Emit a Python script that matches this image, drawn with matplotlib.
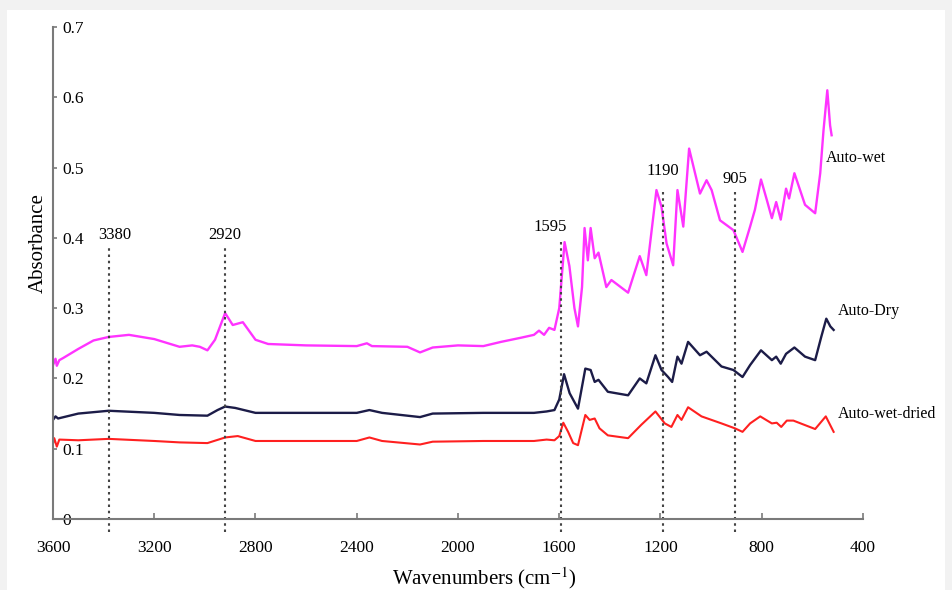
import matplotlib.pyplot as plt
from matplotlib.patches import Rectangle

plt.rcParams['font.family'] = ['Liberation Serif', 'DejaVu Serif']
plt.rcParams['mathtext.fontset'] = 'stix'

# Spectra: wavenumber (cm-1) and absorbance
wet_wn = [3600, 3590, 3585, 3575, 3560, 3500, 3440, 3380, 3300, 3200, 3100, 3050,
          3020, 2990, 2960, 2920, 2890, 2850, 2800, 2750, 2600, 2400, 2360, 2340,
          2200, 2150, 2100, 2000, 1900, 1830, 1750, 1700, 1680, 1660, 1640, 1619,
          1600, 1579, 1560, 1540, 1526, 1510, 1500, 1487, 1476, 1460, 1445, 1414,
          1394, 1328, 1282, 1256, 1216, 1196, 1176, 1150, 1133, 1110, 1087, 1044,
          1018, 998, 965, 912, 876, 846, 827, 803, 780, 760, 743, 725, 704, 692,
          671, 629, 589, 569, 556, 541, 530, 524]
wet_abs = [0.219, 0.228, 0.218, 0.226, 0.229, 0.242, 0.254, 0.259, 0.262, 0.256,
           0.245, 0.247, 0.245, 0.240, 0.255, 0.293, 0.276, 0.280, 0.255, 0.249,
           0.247, 0.246, 0.250, 0.246, 0.245, 0.237, 0.244, 0.247, 0.246, 0.252,
           0.258, 0.262, 0.268, 0.262, 0.272, 0.269, 0.300, 0.394, 0.360, 0.300,
           0.274, 0.330, 0.414, 0.368, 0.414, 0.371, 0.379, 0.330, 0.340, 0.322,
           0.374, 0.347, 0.468, 0.444, 0.392, 0.361, 0.468, 0.416, 0.527, 0.463,
           0.482, 0.468, 0.425, 0.411, 0.380, 0.416, 0.440, 0.483, 0.454, 0.428,
           0.451, 0.426, 0.470, 0.456, 0.492, 0.447, 0.435, 0.492, 0.553, 0.610,
           0.560, 0.546]

dry_wn = [3600, 3590, 3580, 3500, 3380, 3200, 3100, 2990, 2950, 2920, 2880, 2800,
          2600, 2400, 2350, 2300, 2150, 2100, 1900, 1700, 1650, 1619, 1600, 1581,
          1559, 1526, 1497, 1476, 1460, 1445, 1408, 1328, 1282, 1256, 1220, 1196,
          1170, 1154, 1133, 1117, 1091, 1044, 1018, 959, 912, 876, 846, 803, 760,
          743, 725, 704, 671, 629, 589, 565, 545, 529, 516]
dry_abs = [0.141, 0.146, 0.143, 0.150, 0.154, 0.151, 0.148, 0.147, 0.155, 0.160,
           0.158, 0.151, 0.151, 0.151, 0.155, 0.151, 0.145, 0.150, 0.151, 0.151,
           0.153, 0.155, 0.170, 0.206, 0.179, 0.157, 0.214, 0.212, 0.195, 0.198,
           0.181, 0.176, 0.200, 0.193, 0.233, 0.212, 0.202, 0.195, 0.231, 0.221,
           0.252, 0.233, 0.238, 0.217, 0.212, 0.202, 0.219, 0.240, 0.226, 0.231,
           0.221, 0.235, 0.244, 0.231, 0.226, 0.259, 0.285, 0.274, 0.269]

dried_wn = [3600, 3595, 3585, 3575, 3500, 3380, 3200, 3100, 2990, 2920, 2870, 2800,
            2600, 2400, 2350, 2300, 2150, 2100, 1900, 1700, 1650, 1619, 1600, 1584,
            1565, 1545, 1526, 1497, 1480, 1460, 1441, 1408, 1328, 1276, 1220, 1183,
            1157, 1133, 1117, 1091, 1038, 959, 906, 876, 846, 806, 760, 741, 723,
            701, 675, 589, 547, 516]
dried_abs = [0.107, 0.115, 0.103, 0.113, 0.112, 0.114, 0.111, 0.109, 0.108, 0.116,
             0.118, 0.111, 0.111, 0.111, 0.116, 0.111, 0.106, 0.110, 0.111, 0.111,
             0.113, 0.112, 0.118, 0.137, 0.124, 0.108, 0.105, 0.148, 0.141, 0.143,
             0.129, 0.119, 0.115, 0.134, 0.153, 0.136, 0.131, 0.148, 0.141, 0.159,
             0.146, 0.136, 0.129, 0.124, 0.136, 0.146, 0.136, 0.137, 0.131, 0.140,
             0.140, 0.128, 0.146, 0.124]

# Marked bands: position, top of the dotted line, label height
band_pos = [3380, 2920, 1595, 1190, 905]
band_top = [0.385, 0.385, 0.395, 0.465, 0.465]
band_text = ['3380', '2920', '1595', '1190', '905']
band_label_y = [0.393, 0.393, 0.404, 0.484, 0.473]
band_label_dx = [-25, 0, 40, 0, 0]

x_ticks = [3600, 3200, 2800, 2400, 2000, 1600, 1200, 800, 400]
y_ticks = [0, 0.1, 0.2, 0.3, 0.4, 0.5, 0.6, 0.7]
y_tick_labels = ['0', '0.1', '0.2', '0.3', '0.4', '0.5', '0.6', '0.7']


fig = plt.figure(figsize=(9.53, 5.9), dpi=100, facecolor='#f2f2f2')
fig.patches.append(Rectangle((7 / 953, 0), 938 / 953, 580 / 590,
                             transform=fig.transFigure, facecolor='white',
                             edgecolor='none', zorder=-10))
ax = fig.add_axes([53 / 953, 71 / 590, 810 / 953, 492 / 590])
ax.set_zorder(5)
ax.set_facecolor('none')

ax.plot(wet_wn, wet_abs, color='#ff33ff', lw=1.7)
ax.plot(dry_wn, dry_abs, color='#1c1c48', lw=1.7)
ax.plot(dried_wn, dried_abs, color='#ff2020', lw=1.5)

# dotted band markers
for pos, top, txt, ly, dx in zip(band_pos, band_top, band_text,
                                 band_label_y, band_label_dx):
    ax.plot([pos, pos], [-0.018, top], color='#444444', lw=1.5,
            linestyle=(0, (1.2, 1.8)), clip_on=False)
    ax.text(pos + dx, ly, txt, ha='center', va='bottom', fontsize=12)

ax.text(548, 0.514, 'Auto-wet', fontsize=11.5, ha='left', va='center')
ax.text(500, 0.296, 'Auto-Dry', fontsize=11.5, ha='left', va='center')
ax.text(500, 0.150, 'Auto-wet-dried', fontsize=11.5, ha='left', va='center')

ax.set_xlim(3600, 400)
ax.set_ylim(0, 0.7)
ax.set_xticks(x_ticks)
ax.set_yticks(y_ticks)
ax.set_yticklabels(y_tick_labels)

for side in ['top', 'right']:
    ax.spines[side].set_visible(False)
for side in ['left', 'bottom']:
    ax.spines[side].set_color('#7a7a7a')
    ax.spines[side].set_linewidth(1.5)

ax.tick_params(axis='x', direction='in', length=4, width=1.2, color='#7a7a7a',
               labelsize=12.5, pad=15)
ax.tick_params(axis='y', direction='in', length=3, width=1.2, color='#7a7a7a',
               labelsize=12.5, pad=-7)
for lab in ax.get_yticklabels():
    lab.set_horizontalalignment('left')

ax.set_ylabel('Absorbance', fontsize=15)
ax.yaxis.set_label_coords(-0.007, 0.56)
ax.set_xlabel(r'Wavenumbers (cm$^{\mathrm{-1}}$)', fontsize=15)
ax.xaxis.set_label_coords(0.532, -0.095)

fig.savefig('out.png', dpi=100, facecolor=fig.get_facecolor())
